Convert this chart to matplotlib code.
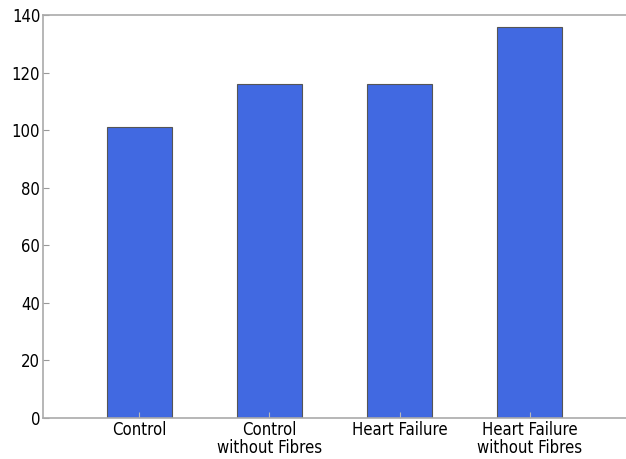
import matplotlib
matplotlib.use('Agg')
import matplotlib.pyplot as plt
import numpy as np

groups = ['Control', 'Control\nwithout Fibres', 'Heart Failure', 'Heart Failure\nwithout Fibres']
counts = [101, 116, 116, 136]

plt.rcParams['font.family'] = ['DejaVu Sans']
plt.rcParams['font.stretch'] = 'condensed'

fig = plt.figure(figsize=(6.26, 4.59), dpi=100)
ax = fig.add_axes([43 / 626, 1 - 418 / 459, 586 / 626, 403 / 459])

x = np.arange(len(groups))
ax.bar(x, counts, width=0.5, color='#4169E1', edgecolor='#555555', linewidth=0.8)

ax.set_xlim(-0.742, 3.765)
ax.set_ylim(0, 140)
ax.set_xticks(x)
ax.set_xticklabels(groups, fontsize=12, linespacing=1.0)
ax.set_yticks(np.arange(0, 141, 20))
ax.tick_params(axis='y', labelsize=12, direction='in', length=4, color='#999999', pad=2)
ax.tick_params(axis='x', direction='in', length=4, color='#bbbbbb', pad=2)
ax.tick_params(top=False, right=False)

for side in ['left', 'top', 'bottom']:
    ax.spines[side].set_color('#aaaaaa')
    ax.spines[side].set_linewidth(1.2)
ax.spines['right'].set_visible(False)

fig.savefig('out.png', dpi=100)
